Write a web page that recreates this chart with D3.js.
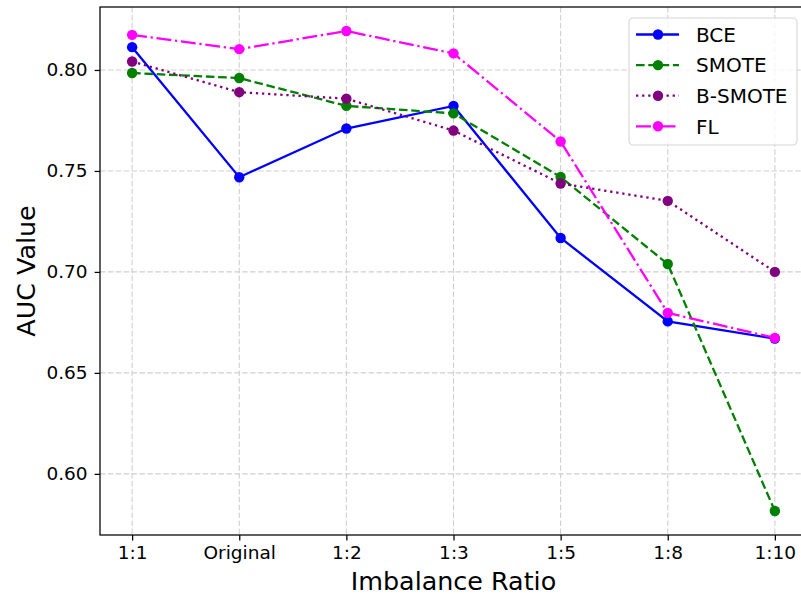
<!DOCTYPE html>
<html>
<head>
<meta charset="utf-8">
<script src="https://cdn.jsdelivr.net/npm/d3@7"></script>
<style>
  body { margin: 0; background: #fff; }
  svg { display: block; font-family: "DejaVu Sans", sans-serif; }
  .tick text { fill: #000; }
</style>
</head>
<body>
<svg id="chart" width="801" height="594"></svg>
<script>
const WIDTH = 801;
const HEIGHT = 594;
const MARGIN = {top: 7, right: -6, bottom: 59, left: 100};
const FONT = 'DejaVu Sans, sans-serif';

// data
const ratios = ['1:1', 'Original', '1:2', '1:3', '1:5', '1:8', '1:10'];
const bceValues = [0.8113, 0.7469, 0.7710, 0.7822, 0.7168, 0.6755, 0.6670];
const smoteValues = [0.7985, 0.7960, 0.7822, 0.7785, 0.7470, 0.7039, 0.5816];
const bSmoteValues = [0.8042, 0.7890, 0.7858, 0.7700, 0.7438, 0.7352, 0.7000];
const flValues = [0.8174, 0.8103, 0.8193, 0.8082, 0.7646, 0.6797, 0.6673];
const yTicks = [0.60, 0.65, 0.70, 0.75, 0.80];

const series = [
  {name: 'BCE', values: bceValues, color: 'blue', dash: null},
  {name: 'SMOTE', values: smoteValues, color: 'green', dash: '8.6,3.7'},
  {name: 'B-SMOTE', values: bSmoteValues, color: 'purple', dash: '2.3,3.8'},
  {name: 'FL', values: flValues, color: 'magenta', dash: '14.9,3.7,2.3,3.7'},
];

const innerWidth = WIDTH - MARGIN.left - MARGIN.right;
const innerHeight = HEIGHT - MARGIN.top - MARGIN.bottom;

const svg = d3.select('#chart');
const plot = svg.append('g')
    .attr('transform', `translate(${MARGIN.left},${MARGIN.top})`);

// x: point positions with matplotlib-style 5% margins
const xIndex = d3.scaleLinear()
    .domain([-0.3, ratios.length - 1 + 0.3])
    .range([0, innerWidth]);
const x = d => xIndex(ratios.indexOf(d));

const allValues = [].concat(...series.map(s => s.values));
const yMin = d3.min(allValues);
const yMax = d3.max(allValues);
const yPad = (yMax - yMin) * 0.05;
const y = d3.scaleLinear()
    .domain([yMin - yPad, yMax + yPad])
    .range([innerHeight, 0]);

// grid
plot.append('g')
    .selectAll('line')
    .data(ratios)
    .join('line')
    .attr('x1', d => x(d))
    .attr('x2', d => x(d))
    .attr('y1', 0)
    .attr('y2', innerHeight)
    .attr('stroke', '#cfcfcf')
    .attr('stroke-width', 1.1)
    .attr('stroke-dasharray', '5.5,2.4');
plot.append('g')
    .selectAll('line')
    .data(yTicks)
    .join('line')
    .attr('x1', 0)
    .attr('x2', innerWidth)
    .attr('y1', d => y(d))
    .attr('y2', d => y(d))
    .attr('stroke', '#cfcfcf')
    .attr('stroke-width', 1.1)
    .attr('stroke-dasharray', '5.5,2.4');

// axes
const xAxis = plot.append('g')
    .attr('transform', `translate(0,${innerHeight})`)
    .call(d3.axisBottom(xIndex)
        .tickValues(d3.range(ratios.length))
        .tickFormat(i => ratios[i])
        .tickSize(5.4)
        .tickPadding(5));
const yAxis = plot.append('g')
    .call(d3.axisLeft(y)
        .tickValues(yTicks)
        .tickFormat(d3.format('.2f'))
        .tickSize(5.4)
        .tickPadding(7));
[xAxis, yAxis].forEach(a => {
  a.attr('font-family', FONT).attr('font-size', 18.5);
  a.select('.domain').remove();
  a.selectAll('.tick line').attr('stroke', '#000').attr('stroke-width', 1.25);
});

// spines
plot.append('rect')
    .attr('x', 0)
    .attr('y', 0)
    .attr('width', innerWidth)
    .attr('height', innerHeight)
    .attr('fill', 'none')
    .attr('stroke', '#000')
    .attr('stroke-width', 1.25);

// lines and markers
const line = d3.line()
    .x((d, i) => xIndex(i))
    .y(d => y(d));

for (const s of series) {
  const g = plot.append('g');
  g.append('path')
      .datum(s.values)
      .attr('d', line)
      .attr('fill', 'none')
      .attr('stroke', s.color)
      .attr('stroke-width', 2.3)
      .attr('stroke-dasharray', s.dash);
  g.selectAll('circle')
      .data(s.values)
      .join('circle')
      .attr('cx', (d, i) => xIndex(i))
      .attr('cy', d => y(d))
      .attr('r', 5.2)
      .attr('fill', s.color);
}

// axis labels
svg.append('text')
    .attr('x', MARGIN.left + xIndex(3))
    .attr('y', 589.5)
    .attr('text-anchor', 'middle')
    .attr('font-family', FONT)
    .attr('font-size', 25.4)
    .text('Imbalance Ratio');
svg.append('text')
    .attr('transform', `translate(34.5,${MARGIN.top + innerHeight / 2}) rotate(-90)`)
    .attr('text-anchor', 'middle')
    .attr('font-family', FONT)
    .attr('font-size', 25.4)
    .text('AUC Value');

// legend
const legend = svg.append('g').attr('transform', 'translate(629,18)');
legend.append('rect')
    .attr('width', 168)
    .attr('height', 127)
    .attr('rx', 4)
    .attr('fill', 'rgba(255,255,255,0.8)')
    .attr('stroke', '#d6d6d6')
    .attr('stroke-width', 1.1);
series.forEach((s, i) => {
  const row = legend.append('g')
      .attr('transform', `translate(0,${16.5 + i * 30.6})`);
  row.append('line')
      .attr('x1', 7)
      .attr('x2', 50)
      .attr('stroke', s.color)
      .attr('stroke-width', 2.3)
      .attr('stroke-dasharray', s.dash);
  row.append('circle')
      .attr('cx', 29)
      .attr('r', 5.2)
      .attr('fill', s.color);
  row.append('text')
      .attr('x', 67)
      .attr('y', 7.2)
      .attr('font-family', FONT)
      .attr('font-size', 20)
      .text(s.name);
});
</script>
</body>
</html>
